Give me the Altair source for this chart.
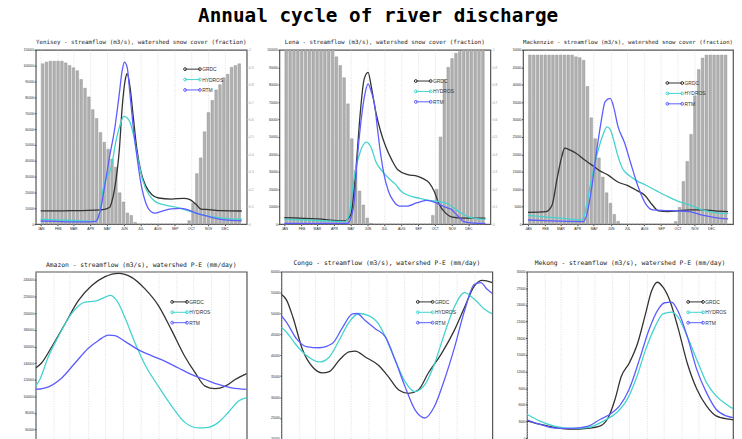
import altair as alt
import pandas as pd

MONTH_DAYS = [0, 31, 59, 90, 120, 151, 181, 212, 243, 273, 304, 334]
MONTH_LABELS = ["JAN", "FEB", "MAR", "APR", "MAY", "JUN", "JUL", "AUG", "SEP", "OCT", "NOV", "DEC"]
SERIES = ["GRDC", "HYDROS", "RTM"]
SERIES_COLORS = ["#333333", "#44d3cf", "#5c5cff"]
FRACTION_TICKS = [0, 0.1, 0.2, 0.3, 0.4, 0.5, 0.6, 0.7, 0.8, 0.9, 1.0]

MAIN_TITLE = "Annual cycle of river discharge"
TITLES = {
    "Yenisey": "Yenisey - streamflow (m3/s), watershed snow cover (fraction)",
    "Lena": "Lena - streamflow (m3/s), watershed snow cover (fraction)",
    "Mackenzie": "Mackenzie - streamflow (m3/s), watershed snow cover (fraction)",
    "Amazon": "Amazon - streamflow (m3/s), watershed P-E (mm/day)",
    "Congo": "Congo - streamflow (m3/s), watershed P-E (mm/day)",
    "Mekong": "Mekong - streamflow (m3/s), watershed P-E (mm/day)",
}

# weekly watershed snow cover (fraction), 52 weeks
YENISEY_SNOW = [0.92, 0.93, 0.935, 0.935, 0.935, 0.935, 0.925, 0.91, 0.897, 0.88, 0.83, 0.78, 0.73,
                0.657, 0.606, 0.526, 0.47, 0.43, 0.373, 0.327, 0.18, 0.127, 0.064, 0.05, 0.01,
                0, 0, 0, 0, 0, 0, 0, 0, 0, 0, 0, 0, 0,
                0.02, 0.12, 0.29, 0.38, 0.53, 0.64, 0.71, 0.77, 0.80, 0.84, 0.86, 0.90, 0.91, 0.92]
LENA_SNOW = [1.0, 1.0, 1.0, 1.0, 1.0, 1.0, 1.0, 1.0, 1.0, 1.0, 1.0, 1.0, 1.0,
             0.96, 0.91, 0.84, 0.69, 0.49, 0.31, 0.19, 0.11, 0.035, 0.005,
             0, 0, 0, 0, 0, 0, 0, 0, 0, 0, 0, 0, 0, 0, 0,
             0.05, 0.2, 0.5, 0.83, 0.9, 0.95, 0.98, 0.99, 1.0, 1.0, 1.0, 1.0, 1.0, 1.0]
MACKENZIE_SNOW = [0.97, 0.97, 0.97, 0.97, 0.97, 0.97, 0.97, 0.97, 0.97, 0.97, 0.97, 0.97,
                  0.96, 0.955, 0.94, 0.79, 0.61, 0.49, 0.38, 0.27, 0.18, 0.12, 0.056, 0.016,
                  0, 0, 0, 0, 0, 0, 0, 0, 0, 0, 0, 0, 0, 0,
                  0.015, 0.096, 0.245, 0.36, 0.515, 0.736, 0.887, 0.953, 0.97, 0.97, 0.97, 0.97, 0.97, 0.97]

# streamflow (m3/s): day of year / value
YEN_GRDC_D = [0, 60, 110, 125, 129, 134, 143, 148, 154, 157, 162, 168, 174, 182, 191, 202, 214, 237, 260, 271, 282, 291, 305, 328, 365]
YEN_GRDC_V = [8400, 8500, 9000, 10500, 14000, 22000, 48000, 74000, 92000, 95000, 87000, 68000, 49000, 33000, 24000, 18500, 16500, 15800, 16300, 15500, 12500, 9500, 9200, 8500, 8300]
YEN_HYD_D = [0, 30, 60, 90, 100, 104, 108, 114, 121, 128, 137, 145, 151, 157, 162, 168, 177, 185, 197, 208, 225, 248, 271, 294, 328, 365]
YEN_HYD_V = [3100, 2700, 2300, 1800, 1700, 3500, 9000, 23700, 30000, 36000, 53000, 63500, 68000, 67000, 64500, 57000, 40400, 27900, 18400, 14200, 12100, 10500, 8000, 5900, 3800, 3100]
YEN_RTM_D = [0, 30, 60, 90, 100, 105, 111, 117, 125, 134, 142, 148, 152, 157, 162, 168, 174, 182, 191, 200, 208, 219, 237, 254, 265, 282, 305, 334, 365]
YEN_RTM_V = [2000, 1700, 1500, 1500, 1800, 4800, 13200, 25800, 42500, 59300, 80200, 97000, 102200, 99000, 82300, 61400, 44600, 25800, 13200, 8000, 6900, 8000, 9600, 10000, 9400, 6900, 4800, 2700, 2100]

LENA_GRDC_D = [0, 60, 109, 121, 127, 132, 138, 145, 152, 158, 166, 175, 184, 195, 206, 224, 241, 252, 263, 272, 281, 292, 303, 326, 365]
LENA_GRDC_V = [3800, 3000, 1900, 5700, 20800, 39800, 64400, 83300, 87100, 78600, 64400, 53000, 44500, 36900, 31200, 28400, 27500, 26100, 23700, 18900, 11400, 6600, 4200, 3400, 3400]
LENA_HYD_D = [0, 60, 110, 118, 124, 130, 138, 149, 158, 166, 178, 189, 201, 212, 229, 246, 263, 281, 298, 315, 338, 365]
LENA_HYD_V = [2800, 2100, 1500, 5700, 20800, 32200, 41700, 47000, 43600, 36000, 30300, 26500, 23100, 18900, 16100, 14800, 13600, 12900, 11400, 7600, 3800, 2800]
LENA_RTM_D = [0, 60, 115, 121, 127, 132, 139, 147, 152, 158, 164, 169, 175, 181, 189, 198, 209, 224, 241, 258, 275, 292, 303, 315, 326, 343, 365]
LENA_RTM_V = [400, 450, 500, 3800, 13300, 36000, 58700, 75800, 80500, 75800, 68200, 54900, 39800, 28400, 18900, 13300, 10400, 10400, 12300, 13600, 12300, 9800, 8500, 4700, 1500, 600, 400]

MAC_GRDC_D = [0, 33, 44, 53, 62, 67, 76, 87, 101, 116, 130, 147, 164, 181, 198, 213, 227, 238, 255, 273, 295, 318, 341, 365]
MAC_GRDC_V = [3400, 3600, 5500, 13000, 19600, 21800, 21300, 20400, 18700, 17000, 15400, 14000, 12100, 11100, 9700, 8300, 5500, 3800, 3600, 3800, 4100, 4100, 3800, 3600]
MAC_HYD_D = [0, 30, 60, 96, 101, 107, 116, 124, 136, 144, 150, 156, 164, 173, 184, 198, 216, 233, 250, 273, 295, 318, 341, 365]
MAC_HYD_V = [2500, 2100, 1700, 1200, 1700, 5500, 13000, 18700, 25300, 27900, 27200, 24300, 19600, 15800, 14000, 12500, 11100, 9700, 8300, 6600, 5500, 4100, 3300, 3000]
MAC_RTM_D = [0, 30, 60, 101, 107, 116, 124, 133, 141, 150, 156, 164, 176, 187, 198, 207, 216, 227, 250, 273, 295, 318, 341, 365]
MAC_RTM_V = [1200, 1000, 850, 750, 2600, 10200, 19600, 29000, 35200, 36100, 33800, 28100, 23400, 17700, 12100, 8300, 5500, 4100, 3900, 3800, 3600, 2600, 1900, 1500]

AMZ_GRDC_D = [0, 10, 28, 51, 74, 97, 120, 143, 166, 189, 212, 235, 258, 276, 293, 310, 328, 345, 365]
AMZ_GRDC_V = [134100, 140100, 160000, 187700, 215400, 233300, 244000, 248000, 243200, 229300, 209500, 179700, 148000, 128200, 112300, 109200, 112300, 120300, 127400]
AMZ_HYD_D = [0, 7, 22, 39, 62, 85, 103, 120, 129, 140, 155, 172, 189, 212, 235, 258, 281, 299, 316, 333, 351, 365]
AMZ_HYD_V = [112300, 120300, 148000, 171800, 199600, 213400, 214600, 219400, 221400, 215400, 193600, 163900, 138100, 112300, 88500, 68700, 62000, 62800, 68700, 80600, 94500, 98500]
AMZ_RTM_D = [0, 22, 45, 68, 91, 108, 126, 137, 155, 178, 201, 224, 247, 270, 293, 316, 339, 365]
AMZ_RTM_V = [108400, 111500, 122200, 140100, 157900, 167000, 173800, 173000, 165900, 156000, 148800, 142100, 134100, 126200, 120300, 114300, 110300, 108400]

CON_GRDC_D = [0, 9, 20, 37, 54, 71, 83, 100, 117, 128, 145, 168, 185, 203, 220, 237, 254, 277, 299, 317, 334, 348, 365]
CON_GRDC_V = [54600, 53200, 49100, 41200, 37200, 35800, 36100, 38800, 40800, 41000, 39600, 37600, 34900, 31700, 30900, 31700, 35700, 40400, 45900, 51500, 56600, 57900, 57400]
CON_HYD_D = [0, 9, 26, 43, 66, 83, 100, 117, 134, 151, 168, 180, 197, 214, 231, 248, 265, 282, 299, 317, 334, 351, 365]
CON_HYD_V = [46700, 45500, 42400, 40000, 38400, 39600, 43600, 47900, 50000, 49500, 47500, 44400, 38800, 33700, 31300, 32900, 38000, 45100, 51500, 55000, 53400, 51100, 49900]
CON_RTM_D = [0, 9, 26, 43, 66, 88, 106, 123, 131, 145, 163, 180, 197, 214, 231, 248, 265, 282, 299, 317, 334, 345, 356, 365]
CON_RTM_V = [49500, 47900, 44000, 42100, 41800, 42800, 46700, 49900, 50000, 48300, 46300, 44400, 38800, 32500, 27000, 25000, 27800, 34100, 41600, 50700, 57000, 57400, 55800, 54800]

MEK_GRDC_D = [0, 22, 50, 79, 107, 130, 144, 156, 167, 181, 196, 210, 221, 231, 241, 253, 267, 284, 301, 318, 335, 358, 365]
MEK_GRDC_V = [3100, 2500, 1900, 1600, 1750, 2200, 3700, 7000, 11100, 13500, 17100, 22400, 26600, 28100, 27200, 24800, 20100, 13500, 8800, 5800, 4000, 3400, 3300]
MEK_HYD_D = [0, 22, 50, 79, 107, 136, 159, 176, 193, 210, 227, 241, 256, 267, 284, 301, 318, 335, 353, 365]
MEK_HYD_V = [4300, 3100, 2100, 1750, 1900, 3100, 4600, 6700, 10600, 15900, 20100, 22400, 22700, 21900, 18300, 14100, 10000, 7600, 6100, 5300]
MEK_RTM_D = [0, 22, 50, 79, 107, 130, 147, 164, 181, 199, 216, 233, 244, 256, 267, 284, 301, 318, 335, 353, 365]
MEK_RTM_V = [3300, 2500, 1800, 1750, 2100, 3400, 4300, 5800, 8800, 14100, 19500, 23300, 24400, 24500, 23000, 18300, 12300, 8200, 5200, 4000, 3700]

# y-axis tick values
YEN_TICKS = list(range(0, 110001, 10000))
LENA_TICKS = list(range(0, 100001, 10000))
MAC_TICKS = list(range(0, 50001, 5000))
AMZ_TICKS = list(range(40000, 240001, 20000))
CON_TICKS = list(range(15000, 60001, 5000))
MEK_TICKS = list(range(0, 30001, 3000))

LEGEND_PATH = ("M-1,0L3,0"
               "M-0.6,0A0.4,0.4,0,1,1,-1.4,0A0.4,0.4,0,1,1,-0.6,0"
               "M3.4,0A0.4,0.4,0,1,1,2.6,0A0.4,0.4,0,1,1,3.4,0")

MONTH_EXPR = "[{}][indexof([{}], datum.value)]".format(
    ",".join("'%s'" % m for m in MONTH_LABELS), ",".join(str(d) for d in MONTH_DAYS))

PW = 213
TOP_H = 176
BOT_H = 193


def flow_frame(pairs):
    rows = []
    for name, days, vals in pairs:
        for d, v in zip(days, vals):
            rows.append({"series": name, "day": d, "flow": v})
    return pd.DataFrame(rows)


def x_enc():
    return alt.X("day:Q", scale=alt.Scale(domain=[0, 365], nice=False, zero=False),
                 axis=alt.Axis(values=MONTH_DAYS, labelExpr=MONTH_EXPR, grid=True,
                               gridDash=[1, 1.5], gridColor="#c8c8c8", gridWidth=0.6,
                               labelFontSize=3.4, labelColor="#222", tickSize=1.5,
                               labelPadding=0.8, title=None, labelFlush=False))


def panel(key, flows, ydom, yticks, lx, ly, height, snow=None, tsize=5.9,
          right_axis=True, width=PW):
    lines = alt.Chart(flow_frame(flows)).mark_line(
        interpolate="monotone", strokeWidth=1.3, clip=True).encode(
        x=x_enc(),
        y=alt.Y("flow:Q", scale=alt.Scale(domain=ydom, nice=False, zero=False),
                axis=alt.Axis(values=yticks, format="d", orient="left", title=None,
                              labelFontSize=3.2, labelColor="#222", tickSize=1.5,
                              labelPadding=0.6, grid=False)),
        color=alt.Color("series:N", sort=SERIES,
                        scale=alt.Scale(domain=SERIES, range=SERIES_COLORS),
                        legend=alt.Legend(orient="none", legendX=lx, legendY=ly, title=None,
                                          symbolType=LEGEND_PATH, symbolSize=56,
                                          symbolStrokeWidth=1, symbolFillColor="transparent",
                                          labelOffset=9, rowPadding=2.5, padding=0,
                                          labelFontSize=5, labelColor="#333",
                                          labelFont="Liberation Sans")),
    )
    if snow is not None:
        snow_df = pd.DataFrame({"day": [7 * i + 3.5 for i in range(len(snow))], "snow": snow})
        if right_axis:
            raxis = alt.Axis(values=FRACTION_TICKS, format="~g", orient="right", title=None,
                             labelFontSize=3.2, labelColor="#9a9a9a", tickColor="#bbbbbb",
                             tickSize=1.5, labelPadding=0.6, grid=False)
        else:
            raxis = None
        bars = alt.Chart(snow_df).mark_bar(size=2.7, color="#b0b0b0", stroke="#8c8c8c",
                                           strokeWidth=0.4).encode(
            x=x_enc(),
            y=alt.Y("snow:Q", scale=alt.Scale(domain=[0, 1], nice=False), axis=raxis),
        )
        ch = alt.layer(bars, lines).resolve_scale(y="independent")
    else:
        ch = lines
    return ch.properties(
        width=width, height=height,
        title=alt.TitleParams(TITLES[key], font="DejaVu Sans Mono", fontSize=tsize,
                              fontWeight="normal", color="#222", offset=3))


yen = panel("Yenisey", [("GRDC", YEN_GRDC_D, YEN_GRDC_V), ("HYDROS", YEN_HYD_D, YEN_HYD_V),
                        ("RTM", YEN_RTM_D, YEN_RTM_V)],
            [0, 110000], YEN_TICKS, 150, 15, TOP_H, YENISEY_SNOW)
lena = panel("Lena", [("GRDC", LENA_GRDC_D, LENA_GRDC_V), ("HYDROS", LENA_HYD_D, LENA_HYD_V),
                      ("RTM", LENA_RTM_D, LENA_RTM_V)],
             [0, 100000], LENA_TICKS, 137, 27, TOP_H, LENA_SNOW)
mac = panel("Mackenzie", [("GRDC", MAC_GRDC_D, MAC_GRDC_V), ("HYDROS", MAC_HYD_D, MAC_HYD_V),
                          ("RTM", MAC_RTM_D, MAC_RTM_V)],
            [0, 50000], MAC_TICKS, 145, 29, TOP_H, MACKENZIE_SNOW, tsize=5.7,
            right_axis=False, width=212)
amz = panel("Amazon", [("GRDC", AMZ_GRDC_D, AMZ_GRDC_V), ("HYDROS", AMZ_HYD_D, AMZ_HYD_V),
                       ("RTM", AMZ_RTM_D, AMZ_RTM_V)],
            [20000, 250000], AMZ_TICKS, 137, 26, BOT_H, None, 6.4)
con = panel("Congo", [("GRDC", CON_GRDC_D, CON_GRDC_V), ("HYDROS", CON_HYD_D, CON_HYD_V),
                      ("RTM", CON_RTM_D, CON_RTM_V)],
            [14265, 60000], CON_TICKS, 137, 26, BOT_H, None, 6.4)
mek = panel("Mekong", [("GRDC", MEK_GRDC_D, MEK_GRDC_V), ("HYDROS", MEK_HYD_D, MEK_HYD_V),
                       ("RTM", MEK_RTM_D, MEK_RTM_V)],
            [-4464, 30000], MEK_TICKS, 162, 26, BOT_H, None, 6.4, width=208)

top = alt.hconcat(yen, lena, mac, spacing=33, bounds="flush").resolve_scale(
    color="independent", y="independent").resolve_legend(color="independent")
bottom = alt.hconcat(amz, con, mek, spacing=35, bounds="flush").resolve_scale(
    color="independent", y="independent").resolve_legend(color="independent")

chart = alt.vconcat(top, bottom, spacing=29).resolve_scale(
    color="independent").resolve_legend(color="independent").properties(
    title=alt.TitleParams(MAIN_TITLE, font="DejaVu Sans Mono", fontSize=19.5, fontWeight="bold",
                          color="#000", anchor="middle", offset=12, dx=0),
    padding={"left": 14, "top": -4, "right": 0, "bottom": 0},
    background="white",
).configure_view(stroke="#555555", strokeWidth=1.2).configure_axis(
    domain=False, labelFont="Liberation Sans", tickColor="#444")

chart.save("out.html", embed_options={"renderer": "svg", "actions": False})
